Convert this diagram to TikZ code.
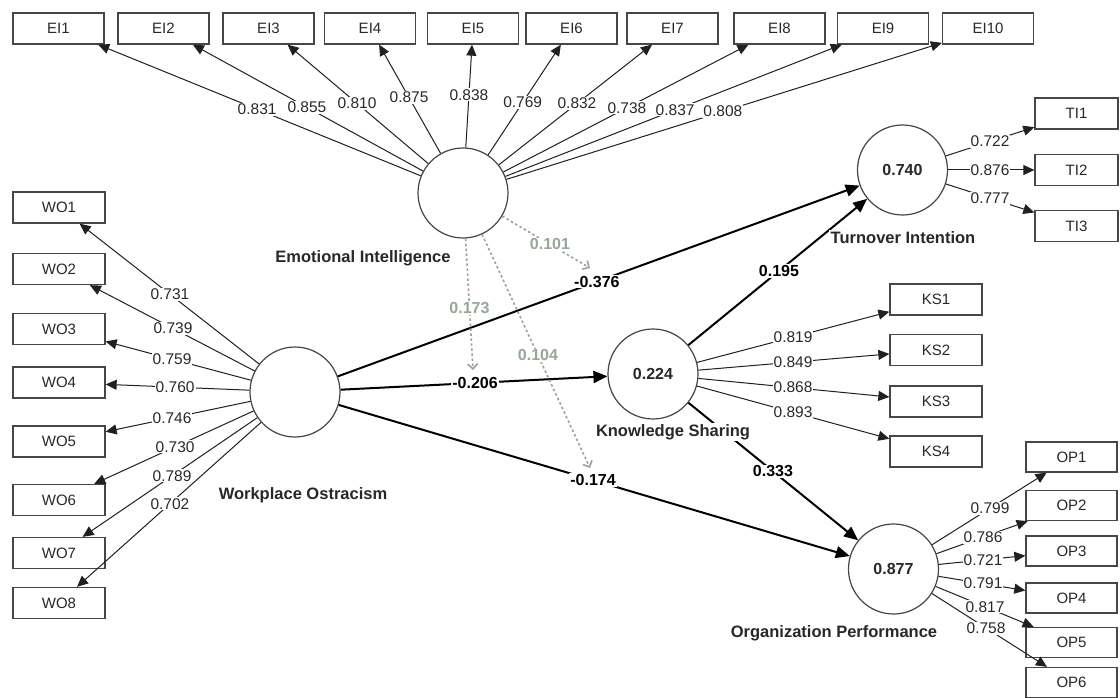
\documentclass[tikz,border=0pt]{standalone}
\usepackage{fontspec}
\setmainfont{Liberation Sans}
\usetikzlibrary{arrows.meta,calc}
\definecolor{modtxt}{RGB}{150,168,150}
\definecolor{ink}{RGB}{40,40,40}
\tikzset{
  ind/.style={draw=gray!55!black, line width=1.3pt, minimum width=91pt, minimum height=31pt, inner sep=0pt, text=ink, font=\fontsize{15}{17}\selectfont},
  lv/.style={circle, draw=gray!55!black, line width=1.2pt, minimum size=90pt, inner sep=0pt, text=ink, font=\bfseries\fontsize{16}{18}\selectfont},
  cname/.style={fill=white, text=ink, font=\bfseries\fontsize{16.5}{18}\selectfont, inner sep=1.5pt},
  ld/.style={draw=gray!25!black, line width=1pt, -{Triangle[length=11pt,width=10pt]}},
  pc/.style={draw=black, line width=2pt, -{Triangle[length=14pt,width=12pt]}},
  lbl/.style={fill=white, inner sep=1pt, text=ink, font=\fontsize{15.5}{17}\selectfont},
  plbl/.style={fill=white, inner sep=1pt, text=black, font=\bfseries\fontsize{16}{18}\selectfont},
  mod/.style={draw=gray!75, line width=1.6pt, dash pattern=on 2.5pt off 2.5pt, -{Straight Barb[length=5pt,width=10pt]}},
  mlbl/.style={fill=white, inner sep=1pt, text=modtxt, font=\bfseries\fontsize{16}{18}\selectfont}
}
\begin{document}
\begin{tikzpicture}[x=1pt,y=-1pt]
\useasboundingbox[fill=white] (0,0) rectangle (1120,698);

% latent variables
\node[lv] (ei) at (463,193) {};
\node[lv] (wo) at (295,392) {};
\node[lv] (ti) at (902.5,170) {0.740};
\node[lv] (ks) at (653,374) {0.224};
\node[lv] (op) at (893.5,569) {0.877};

% EI indicators
\node[ind] (EI1) at (58.5,28.5) {EI1};
\node[ind] (EI2) at (163.5,28.5) {EI2};
\node[ind] (EI3) at (268.5,28.5) {EI3};
\node[ind] (EI4) at (370,28.5) {EI4};
\node[ind] (EI5) at (473,28.5) {EI5};
\node[ind] (EI6) at (571.5,28.5) {EI6};
\node[ind] (EI7) at (672.5,28.5) {EI7};
\node[ind] (EI8) at (779.5,28.5) {EI8};
\node[ind] (EI9) at (883,28.5) {EI9};
\node[ind] (EI10) at (988,28.5) {EI10};

% WO indicators
\node[ind,minimum width=92pt] (WO1) at (59,207.5) {WO1};
\node[ind,minimum width=92pt] (WO2) at (59,269) {WO2};
\node[ind,minimum width=92pt] (WO3) at (59,329) {WO3};
\node[ind,minimum width=92pt] (WO4) at (59,382.5) {WO4};
\node[ind,minimum width=92pt] (WO5) at (59,441.5) {WO5};
\node[ind,minimum width=92pt] (WO6) at (59,500) {WO6};
\node[ind,minimum width=92pt] (WO7) at (59,553) {WO7};
\node[ind,minimum width=92pt] (WO8) at (59,603) {WO8};

% TI indicators
\node[ind,minimum width=83pt] (TI1) at (1076.5,113.5) {TI1};
\node[ind,minimum width=83pt] (TI2) at (1076.5,170) {TI2};
\node[ind,minimum width=83pt] (TI3) at (1076.5,226) {TI3};

% KS indicators
\node[ind,minimum width=92pt] (KS1) at (936,299.5) {KS1};
\node[ind,minimum width=92pt] (KS2) at (936,350) {KS2};
\node[ind,minimum width=92pt] (KS3) at (936,401.5) {KS3};
\node[ind,minimum width=92pt] (KS4) at (936,451.5) {KS4};

% OP indicators
\node[ind,minimum height=30pt] (OP1) at (1071.5,457) {OP1};
\node[ind,minimum height=30pt] (OP2) at (1071.5,505.5) {OP2};
\node[ind,minimum height=30pt] (OP3) at (1071.5,551) {OP3};
\node[ind,minimum height=30pt] (OP4) at (1071.5,598) {OP4};
\node[ind,minimum height=30pt] (OP5) at (1071.5,642.5) {OP5};
\node[ind,minimum height=30pt] (OP6) at (1071.5,682.5) {OP6};

% loadings lines
\foreach \i in {1,...,10} {\draw[ld] (ei) -- (EI\i);}
\foreach \i in {1,...,8} {\draw[ld] (wo) -- (WO\i);}
\foreach \i in {1,2,3} {\draw[ld] (ti) -- (TI\i);}
\foreach \i in {1,...,4} {\draw[ld] (ks) -- (KS\i);}
\foreach \i in {1,...,6} {\draw[ld] (op) -- (OP\i);}

% EI loadings
\node[lbl] at ($(ei)!0.509!(EI1)$) {0.831};
\node[lbl] at ($(ei)!0.521!(EI2)$) {0.855};
\node[lbl] at ($(ei)!0.545!(EI3)$) {0.810};
\node[lbl] at ($(ei)!0.58!(EI4)$) {0.875};
\node[lbl] at ($(ei)!0.596!(EI5)$) {0.838};
\node[lbl] at ($(ei)!0.55!(EI6)$) {0.769};
\node[lbl] at ($(ei)!0.544!(EI7)$) {0.832};
\node[lbl] at ($(ei)!0.518!(EI8)$) {0.738};
\node[lbl] at ($(ei)!0.505!(EI9)$) {0.837};
\node[lbl] at ($(ei)!0.495!(EI10)$) {0.808};

% WO loadings
\node[lbl] at ($(wo)!0.530!(WO1)$) {0.731};
\node[lbl] at ($(wo)!0.517!(WO2)$) {0.739};
\node[lbl] at ($(wo)!0.521!(WO3)$) {0.759};
\node[lbl] at ($(wo)!0.508!(WO4)$) {0.760};
\node[lbl] at ($(wo)!0.521!(WO5)$) {0.746};
\node[lbl] at ($(wo)!0.508!(WO6)$) {0.730};
\node[lbl] at ($(wo)!0.521!(WO7)$) {0.789};
\node[lbl] at ($(wo)!0.530!(WO8)$) {0.702};

% TI loadings
\node[lbl] at ($(ti)!0.503!(TI1)$) {0.722};
\node[lbl] at ($(ti)!0.503!(TI2)$) {0.876};
\node[lbl] at ($(ti)!0.503!(TI3)$) {0.777};

% KS loadings
\node[lbl] at ($(ks)!0.495!(KS1)$) {0.819};
\node[lbl] at ($(ks)!0.495!(KS2)$) {0.849};
\node[lbl] at ($(ks)!0.495!(KS3)$) {0.868};
\node[lbl] at ($(ks)!0.495!(KS4)$) {0.893};

% OP loadings
\node[lbl] at ($(op)!0.542!(OP1)$) {0.799};
\node[lbl] at ($(op)!0.503!(OP2)$) {0.786};
\node[lbl] at ($(op)!0.503!(OP3)$) {0.721};
\node[lbl] at ($(op)!0.503!(OP4)$) {0.791};
\node[lbl] at ($(op)!0.514!(OP5)$) {0.817};
\node[lbl] at ($(op)!0.52!(OP6)$) {0.758};

% structural paths
\draw[pc] (wo) -- (ti);
\draw[pc] (wo) -- (ks);
\draw[pc] (wo) -- (op);
\draw[pc] (ks) -- (ti);
\draw[pc] (ks) -- (op);

% moderation (dotted)
\coordinate (m1) at (590,268);
\coordinate (m2) at (473,370);
\coordinate (m3) at (590,468);
\draw[mod] (ei) -- (m1);
\draw[mod] (ei) -- (m2);
\draw[mod] (ei) -- (m3);
\node[mlbl] at ($(ei)!0.685!(m1)$) {0.101};
\node[mlbl] at ($(ei)!0.65!(m2)$) {0.173};
\node[mlbl] at ($(ei)!0.59!(m3)$) {0.104};

% path coefficients
\node[plbl] at ($(wo)!0.497!(ti)$) {-0.376};
\node[plbl] at ($(wo)!0.503!(ks)$) {-0.206};
\node[plbl] at ($(wo)!0.498!(op)$) {-0.174};
\node[plbl] at ($(ks)!0.505!(ti)$) {0.195};
\node[plbl] at ($(ks)!0.499!(op)$) {0.333};

% construct names
\node[cname] (eiN) at (363,258) {Emotional Intelligence};
\node[cname] (woN) at (303,495) {Workplace Ostracism};
\node[cname] (tiN) at (903,238) {Turnover Intention};
\node[cname] (ksN) at (673,432) {Knowledge Sharing};
\node[cname] (opN) at (834,633) {Organization Performance};
\end{tikzpicture}
\end{document}
